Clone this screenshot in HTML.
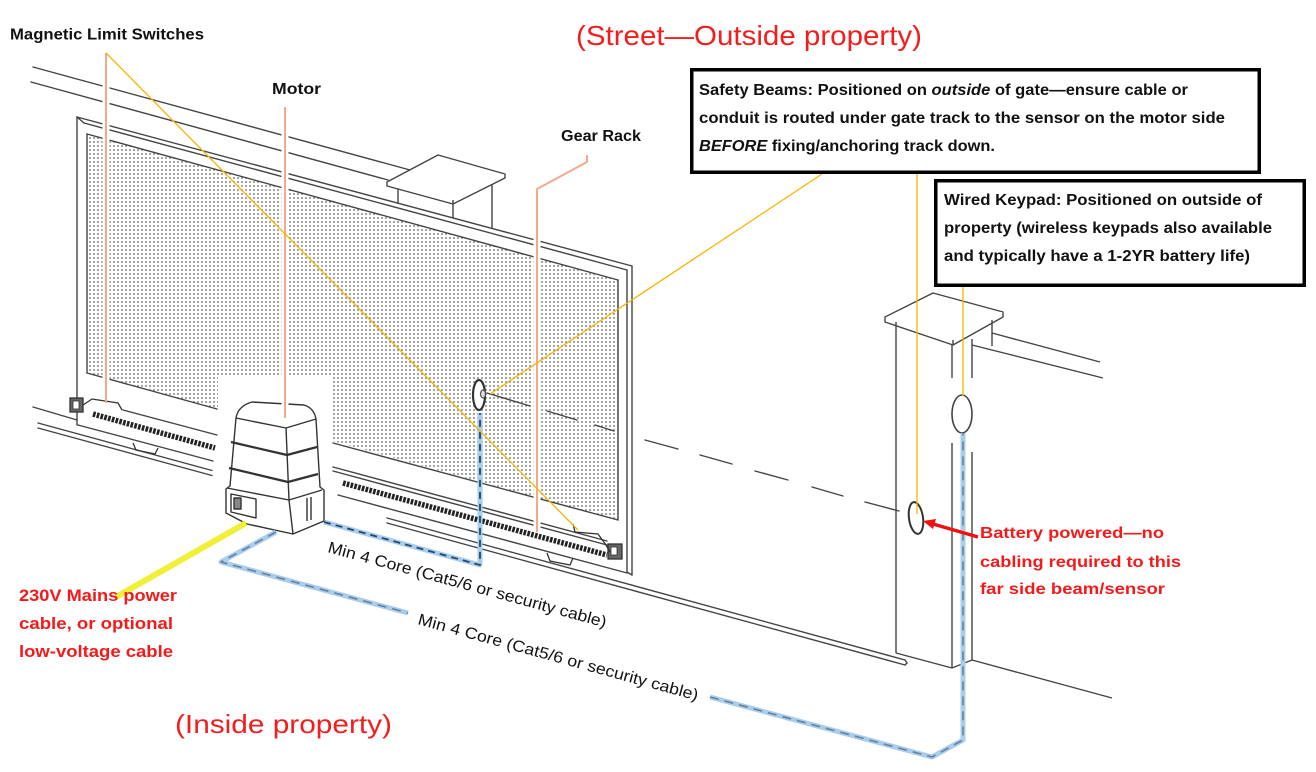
<!DOCTYPE html>
<html><head><meta charset="utf-8">
<style>
html,body{margin:0;padding:0;background:#fff;}
svg{display:block;}
text{font-family:"Liberation Sans",Arial,sans-serif;}
</style></head><body>
<svg width="1316" height="772" viewBox="0 0 1316 772" xmlns="http://www.w3.org/2000/svg">
<defs>
<pattern id="dots" width="4" height="4" patternUnits="userSpaceOnUse">
<circle cx="2" cy="2" r="1" fill="#888"/>
</pattern>
</defs>
<rect width="1316" height="772" fill="#fff"/>

<!-- mesh -->
<polygon points="87,134 618,280 618,520 87,373" fill="url(#dots)"/>
<rect x="218" y="376" width="115" height="170" fill="#fff"/>

<g stroke="#444" stroke-width="1.4" fill="none" stroke-linecap="round">
 <line x1="33" y1="67" x2="410" y2="170"/>
 <line x1="31" y1="82" x2="388" y2="180"/>
 <line x1="77" y1="117" x2="632" y2="266"/>
 <line x1="84" y1="123" x2="627" y2="270"/>
 <line x1="87" y1="134" x2="618" y2="280"/>
 <line x1="77" y1="117" x2="77" y2="425"/>
 <line x1="77" y1="117" x2="84" y2="123"/>
 <line x1="87" y1="134" x2="87" y2="373"/>
 <line x1="632" y1="266" x2="632" y2="575"/>
 <line x1="627" y1="270" x2="627" y2="572"/>
 <line x1="618" y1="280" x2="618" y2="520"/>
 <line x1="627" y1="572" x2="632" y2="575"/>
 <line x1="87" y1="373" x2="217" y2="409"/>
 <line x1="123" y1="410" x2="217" y2="435"/>
 <line x1="78" y1="425" x2="213" y2="461"/>
 <line x1="38" y1="423" x2="212" y2="470.5"/>
 <line x1="38" y1="428" x2="212" y2="475.5"/>
 <line x1="33" y1="407" x2="77" y2="420"/>
 <line x1="333" y1="443" x2="618" y2="520"/>
 <line x1="333" y1="467" x2="607" y2="541"/>
 <line x1="333" y1="471" x2="607" y2="545"/>
 <line x1="338" y1="495" x2="627" y2="573"/>
 <line x1="387" y1="518" x2="905" y2="660"/>
 <line x1="387" y1="523" x2="905" y2="665"/>
 <line x1="905" y1="660" x2="907" y2="663"/>
 <line x1="907" y1="663" x2="905" y2="665"/>
 <line x1="487" y1="393" x2="530" y2="406"/>
 <line x1="547" y1="411" x2="577" y2="420"/>
 <line x1="595" y1="425" x2="614" y2="431"/>
 <line x1="645" y1="440" x2="678" y2="449"/>
 <line x1="700" y1="455" x2="732" y2="464"/>
 <line x1="755" y1="471" x2="788" y2="480"/>
 <line x1="812" y1="487" x2="843" y2="496"/>
 <line x1="865" y1="502" x2="899" y2="511"/>
</g>

<g stroke="#444" stroke-width="1.4" fill="#fff" stroke-linejoin="round">
 <polygon points="387,182 438,155 505,174 453,200"/>
 <polyline points="387,182 387,186 453,204 505,178 505,174" />
 <line x1="453" y1="200" x2="453" y2="204"/>
 <line x1="398" y1="189" x2="398" y2="203"/>
 <line x1="453" y1="204" x2="453" y2="218"/>
 <line x1="492" y1="184" x2="492" y2="229"/>
</g>

<g stroke="#222" stroke-width="5.5" stroke-dasharray="2.6 1.3" fill="none">
 <line x1="93" y1="414" x2="215" y2="448"/>
 <line x1="343" y1="483" x2="607" y2="555"/>
</g>

<g stroke="#333" stroke-width="1.3" fill="none">
 <rect x="70" y="398" width="13" height="14" fill="#666"/>
 <rect x="73" y="401" width="6" height="8" fill="#fff" stroke-width="0.8"/>
 <path d="M83,405 L92,399 L118,403 L122,410"/>
 <rect x="608" y="544" width="14" height="15" fill="#666"/>
 <rect x="611" y="547" width="6" height="8" fill="#fff" stroke-width="0.8"/>
 <path d="M573,524 L575,532 L598,534 L606,545 L610,552"/>
 <path d="M133,443 L136,450 L155,454 L158,448"/>
 <path d="M547,553 L550,561 L570,565 L573,558"/>
</g>

<g stroke="#333" stroke-width="1.4" stroke-linejoin="round" fill="none">
 <path d="M226,513 L226,489 L230,486 L236,418 Q238,406 252,402 L304,405 Q314,408 316,419 L320,487 L324,490 L324,521 L293,534 L247,524 Z" fill="#fff"/>
 <polyline points="236,418 286,428 316,419"/>
 <polyline points="286,428 289,500 293,534"/>
 <polyline points="231,442 287,455 317,447" stroke-width="2.2"/>
 <polyline points="229,468 288,482 318,474" stroke-width="2.2"/>
 <polyline points="227,488 289,500 322,490"/>
 <polygon points="231,494 256,499 256,518 231,512"/>
 <rect x="234" y="498" width="7" height="11" fill="#888"/>
 <line x1="307" y1="498" x2="307" y2="521"/>
 <line x1="311" y1="497" x2="311" y2="520"/>
</g>

<g stroke="#444" stroke-width="1.4" fill="#fff" stroke-linejoin="round">
 <polygon points="885,317 933,293 1003,312 953,340"/>
 <polyline points="885,317 885,322 953,345 1003,317 1003,312"/>
 <line x1="953" y1="340" x2="953" y2="345"/>
 <line x1="896" y1="322" x2="896" y2="653"/>
 <line x1="952" y1="345" x2="952" y2="378"/>
 <line x1="952" y1="443" x2="952" y2="668"/>
 <line x1="972" y1="339" x2="972" y2="378"/>
 <line x1="972" y1="452" x2="972" y2="660"/>
 <line x1="992" y1="320" x2="992" y2="346"/>
 <line x1="992" y1="333" x2="1100" y2="362"/>
 <line x1="972" y1="345" x2="1103" y2="378"/>
 <line x1="896" y1="653" x2="952" y2="668"/>
 <line x1="952" y1="668" x2="972" y2="660"/>
 <line x1="972" y1="660" x2="1112" y2="698"/>
</g>

<ellipse cx="479" cy="395" rx="6" ry="15" fill="#fff" stroke="#333" stroke-width="2.2"/>
<ellipse cx="483" cy="394" rx="2.5" ry="4" fill="#ddd" stroke="#555" stroke-width="1.2"/>
<ellipse cx="916" cy="518" rx="7" ry="16" fill="#fff" stroke="#333" stroke-width="2" transform="rotate(-8 916 518)"/>
<ellipse cx="962" cy="414" rx="10" ry="19" fill="#fff" stroke="#444" stroke-width="1.6"/>

<g fill="none" stroke-linejoin="round">
 <polyline points="324,522 480,565 480,413" stroke="#a9cdec" stroke-width="5"/>
 <polyline points="324,522 480,565 480,413" stroke="#24466f" stroke-width="1.8" stroke-dasharray="7 5"/>
 <polyline points="276,532 221,562 408,613" stroke="#a9cdec" stroke-width="5"/>
 <polyline points="276,532 221,562 408,613" stroke="#6482a0" stroke-width="1.6" stroke-dasharray="9 6"/>
 <polyline points="710,697 932,757 963,740 963,433" stroke="#a9cdec" stroke-width="5"/>
 <polyline points="710,697 932,757 963,740 963,433" stroke="#6482a0" stroke-width="1.6" stroke-dasharray="9 6"/>
 <line x1="246" y1="523" x2="116" y2="597" stroke="#f0f03a" stroke-width="6"/>
</g>

<g stroke="#fff" stroke-width="7" fill="none">
 <line x1="106" y1="60" x2="106" y2="395"/>
 <line x1="285" y1="110" x2="285" y2="415"/>
 <line x1="537" y1="192" x2="537" y2="528"/>
</g>
<g fill="none" stroke-linejoin="round">
 <line x1="106" y1="53" x2="106" y2="403" stroke="#f4a98c" stroke-width="2"/>
 <line x1="285" y1="107" x2="285" y2="418" stroke="#f4a98c" stroke-width="2"/>
 <polyline points="587,155 587,162 537,189 537,532" stroke="#f4a98c" stroke-width="2"/>
 <line x1="106" y1="53" x2="578" y2="530" stroke="#f7b500" stroke-width="1.3"/>
 <line x1="822" y1="174" x2="490" y2="394" stroke="#f7b500" stroke-width="1.3"/>
 <line x1="917" y1="174" x2="917" y2="514" stroke="#f7b500" stroke-width="1.3"/>
 <line x1="963" y1="287" x2="963" y2="396" stroke="#f7b500" stroke-width="1.3"/>
</g>

<line x1="978" y1="537" x2="933" y2="524" stroke="#f01010" stroke-width="3.5"/>
<polygon points="923,521 936,519 933,529" fill="#f01010"/>

<rect x="691.75" y="69.75" width="567.5" height="102.5" fill="#fff" stroke="#000" stroke-width="3.5"/>
<rect x="935.75" y="180.75" width="368.5" height="104.5" fill="#fff" stroke="#000" stroke-width="3.5"/>

<g fill="#111" font-weight="bold">
 <text x="10" y="39.5" font-size="16" textLength="194" lengthAdjust="spacingAndGlyphs">Magnetic Limit Switches</text>
 <text x="272" y="94" font-size="16" textLength="49" lengthAdjust="spacingAndGlyphs">Motor</text>
 <text x="561" y="141" font-size="16" textLength="80" lengthAdjust="spacingAndGlyphs">Gear Rack</text>
 <text x="699" y="95" font-size="16" textLength="489" lengthAdjust="spacingAndGlyphs">Safety Beams: Positioned on <tspan font-style="italic">outside</tspan> of gate—ensure cable or</text>
 <text x="699" y="123" font-size="16" textLength="526" lengthAdjust="spacingAndGlyphs">conduit is routed under gate track to the sensor on the motor side</text>
 <text x="699" y="151" font-size="16" textLength="296" lengthAdjust="spacingAndGlyphs"><tspan font-style="italic">BEFORE</tspan> fixing/anchoring track down.</text>
 <text x="944" y="205" font-size="16" textLength="318" lengthAdjust="spacingAndGlyphs">Wired Keypad: Positioned on outside of</text>
 <text x="944" y="233" font-size="16" textLength="328" lengthAdjust="spacingAndGlyphs">property (wireless keypads also available</text>
 <text x="944" y="261" font-size="16" textLength="306" lengthAdjust="spacingAndGlyphs">and typically have a 1-2YR battery life)</text>
</g>
<g fill="#f41a1a" font-weight="bold">
 <text x="19" y="601" font-size="17" textLength="158" lengthAdjust="spacingAndGlyphs">230V Mains power</text>
 <text x="19" y="629" font-size="17" textLength="154" lengthAdjust="spacingAndGlyphs">cable, or optional</text>
 <text x="19" y="657" font-size="17" textLength="154" lengthAdjust="spacingAndGlyphs">low-voltage cable</text>
 <text x="980" y="538" font-size="16" textLength="184" lengthAdjust="spacingAndGlyphs">Battery powered—no</text>
 <text x="980" y="567" font-size="16" textLength="201" lengthAdjust="spacingAndGlyphs">cabling required to this</text>
 <text x="980" y="594" font-size="16" textLength="185" lengthAdjust="spacingAndGlyphs">far side beam/sensor</text>
</g>
<g fill="#f21d1d">
 <text x="576" y="45" font-size="28" textLength="346" lengthAdjust="spacingAndGlyphs">(Street—Outside property)</text>
 <text x="175" y="733" font-size="26" textLength="217" lengthAdjust="spacingAndGlyphs">(Inside property)</text>
</g>
<g fill="#111">
 <text transform="translate(327,552) rotate(15.2)" font-size="16" textLength="288" lengthAdjust="spacingAndGlyphs">Min 4 Core (Cat5/6 or security cable)</text>
 <text transform="translate(417,624) rotate(15.3)" font-size="16" textLength="290" lengthAdjust="spacingAndGlyphs">Min 4 Core (Cat5/6 or security cable)</text>
</g>
</svg>
</body></html>
